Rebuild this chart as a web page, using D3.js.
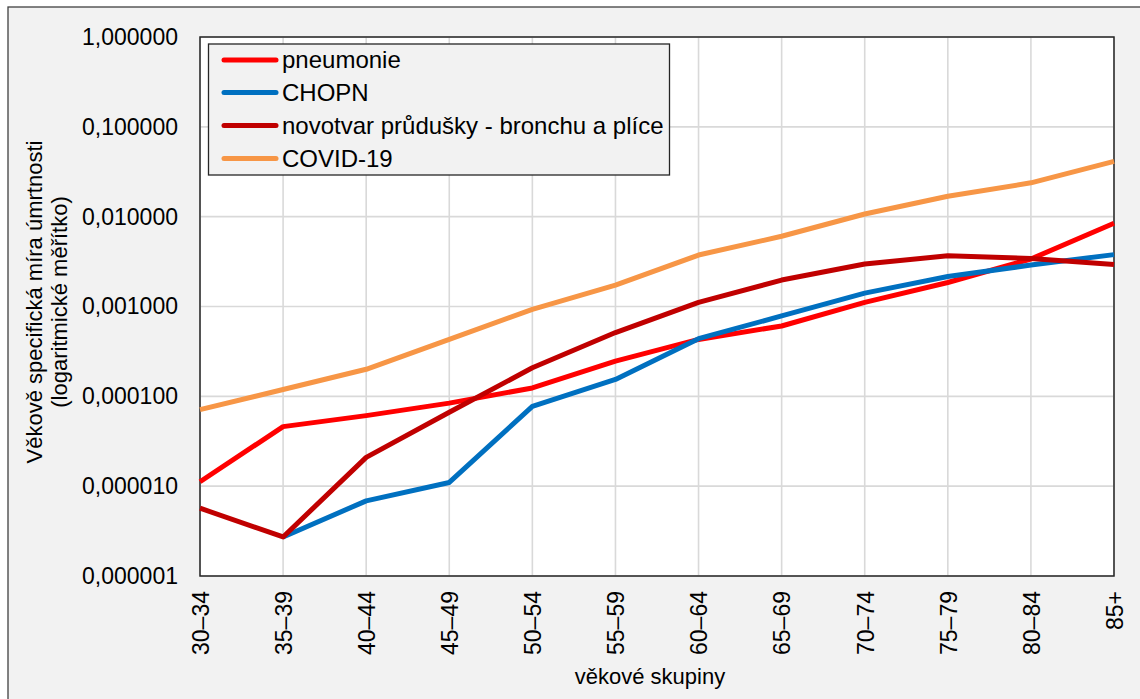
<!DOCTYPE html>
<html>
<head>
<meta charset="utf-8">
<script src="https://cdn.jsdelivr.net/npm/d3@7"></script>
<style>
  html, body { margin: 0; padding: 0; background: #ffffff; }
  svg { display: block; font-family: "Liberation Sans", Arial, sans-serif; }
</style>
</head>
<body>
<svg id="chart" width="1140" height="699"></svg>
<script>
// Age groups on the x axis
const ageGroups = ["30–34", "35–39", "40–44", "45–49", "50–54", "55–59",
                   "60–64", "65–69", "70–74", "75–79", "80–84", "85+"];

// Age-specific mortality rates per cause (null = no deaths recorded)
const pneumonie = [1.12e-5, 4.6e-5, 6.1e-5, 8.4e-5, 1.24e-4, 2.47e-4,
                   4.3e-4, 6.07e-4, 1.11e-3, 1.85e-3, 3.38e-3, 8.45e-3];
const chopn     = [null, 2.72e-6, 6.86e-6, 1.1e-5, 7.74e-5, 1.54e-4,
                   4.38e-4, 7.85e-4, 1.41e-3, 2.16e-3, 2.89e-3, 3.78e-3];
const novotvar  = [5.68e-6, 2.72e-6, 2.09e-5, 6.64e-5, 2.08e-4, 5.13e-4,
                   1.11e-3, 1.97e-3, 2.97e-3, 3.67e-3, 3.43e-3, 2.94e-3];
const covid     = [7.1e-5, 1.19e-4, 2.0e-4, 4.3e-4, 9.3e-4, 1.73e-3,
                   3.74e-3, 6.05e-3, 1.07e-2, 1.69e-2, 2.38e-2, 4.13e-2];

const seriesNames  = ["pneumonie", "CHOPN", "novotvar průdušky - bronchu a plíce", "COVID-19"];
const seriesValues = [pneumonie, chopn, novotvar, covid];
const seriesColors = ["#ff0000", "#0070c0", "#c00000", "#f79646"];

// Logarithmic y ticks
const yTicks = [1e-6, 1e-5, 1e-4, 1e-3, 1e-2, 1e-1, 1];

const svg = d3.select("#chart");
const W = 1140, H = 699;
const plot = { left: 200, right: 1114, top: 37, bottom: 576 };

// Outer chart area
svg.append("rect")
  .attr("x", 8).attr("y", 7)
  .attr("width", W + 20).attr("height", H + 20)
  .attr("fill", "#f2f2f2")
  .attr("stroke", "#404040").attr("stroke-width", 1.3);

// Plot area
svg.append("rect")
  .attr("x", plot.left).attr("y", plot.top)
  .attr("width", plot.right - plot.left).attr("height", plot.bottom - plot.top)
  .attr("fill", "#ffffff");

const x = d3.scalePoint().domain(ageGroups).range([plot.left, plot.right]);
const y = d3.scaleLog().domain([1e-6, 1]).range([plot.bottom, plot.top]);

// Gridlines
const grid = svg.append("g").attr("stroke", "#d9d9d9").attr("stroke-width", 1.6);
grid.selectAll("line.h").data(yTicks).join("line")
  .attr("class", "h")
  .attr("x1", plot.left).attr("x2", plot.right)
  .attr("y1", d => y(d)).attr("y2", d => y(d));
grid.selectAll("line.v").data(ageGroups).join("line")
  .attr("class", "v")
  .attr("x1", d => x(d)).attr("x2", d => x(d))
  .attr("y1", plot.top).attr("y2", plot.bottom);

// Plot frame
svg.append("rect")
  .attr("x", plot.left).attr("y", plot.top)
  .attr("width", plot.right - plot.left).attr("height", plot.bottom - plot.top)
  .attr("fill", "none")
  .attr("stroke", "#262626").attr("stroke-width", 1.5);

// Y axis
const yAxis = d3.axisLeft(y)
  .tickValues(yTicks)
  .tickSize(0)
  .tickPadding(22)
  .tickFormat(d => d.toFixed(6).replace(".", ","));
const gy = svg.append("g").attr("transform", `translate(${plot.left},0)`).call(yAxis);
gy.select(".domain").remove();
gy.selectAll("text")
  .attr("font-size", 23)
  .attr("font-family", "Liberation Sans, Arial, sans-serif")
  .attr("fill", "#000");

// X axis with vertical labels
const xAxis = d3.axisBottom(x).tickSize(0).tickPadding(0);
const gx = svg.append("g").attr("transform", `translate(0,${plot.bottom})`).call(xAxis);
gx.select(".domain").remove();
gx.selectAll("text")
  .attr("font-size", 23)
  .attr("font-family", "Liberation Sans, Arial, sans-serif")
  .attr("fill", "#000")
  .attr("text-anchor", "end")
  .attr("transform", "translate(0,15) rotate(-90)")
  .attr("x", 0).attr("y", 0).attr("dy", "0.36em");

// Series lines
const line = d3.line()
  .defined(d => d.v !== null)
  .x(d => x(d.age))
  .y(d => y(d.v));

seriesValues.forEach((vals, i) => {
  const pts = vals.map((v, j) => ({ age: ageGroups[j], v }));
  svg.append("path")
    .datum(pts)
    .attr("fill", "none")
    .attr("stroke", seriesColors[i])
    .attr("stroke-width", 5)
    .attr("stroke-linejoin", "round")
    .attr("d", line);
});

// Legend
const lg = svg.append("g");
lg.append("rect")
  .attr("x", 208.5).attr("y", 44)
  .attr("width", 461).attr("height", 131)
  .attr("fill", "#f2f2f2")
  .attr("stroke", "#262626").attr("stroke-width", 1.3);
const rowY = [60, 92.5, 125.5, 158.5];
seriesNames.forEach((name, i) => {
  lg.append("line")
    .attr("x1", 224).attr("x2", 276)
    .attr("y1", rowY[i]).attr("y2", rowY[i])
    .attr("stroke", seriesColors[i])
    .attr("stroke-width", 5)
    .attr("stroke-linecap", "round");
  lg.append("text")
    .attr("x", 282).attr("y", rowY[i])
    .attr("dy", "0.35em")
    .attr("font-size", 24)
    .attr("fill", "#000")
    .text(name);
});

// Axis titles
svg.append("text")
  .attr("x", 650).attr("y", 684)
  .attr("text-anchor", "middle")
  .attr("font-size", 22)
  .attr("fill", "#000")
  .text("věkové skupiny");

const yt = svg.append("text")
  .attr("transform", "translate(42,302) rotate(-90)")
  .attr("text-anchor", "middle")
  .attr("font-size", 22)
  .attr("fill", "#000");
yt.append("tspan").attr("x", 0).attr("y", 0).text("Věkově specifická míra úmrtnosti");
yt.append("tspan").attr("x", 0).attr("y", 25).text("(logaritmické měřítko)");
</script>
</body>
</html>
